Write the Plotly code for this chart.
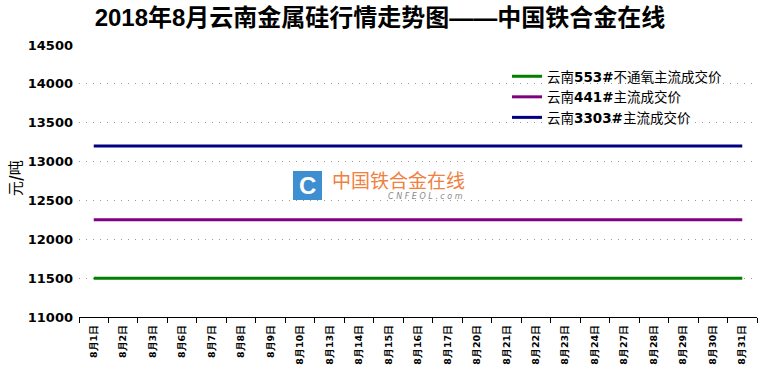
import plotly.graph_objects as go

dates = ["8月1日", "8月2日", "8月3日", "8月6日", "8月7日", "8月8日", "8月9日", "8月10日",
         "8月13日", "8月14日", "8月15日", "8月16日", "8月17日", "8月20日", "8月21日",
         "8月22日", "8月23日", "8月24日", "8月27日", "8月28日", "8月29日", "8月30日", "8月31日"]
s553 = [11500] * 23
s441 = [12250] * 23
s3303 = [13200] * 23
names = ["云南<b>553#</b>不通氧主流成交价", "云南<b>441#</b>主流成交价", "云南<b>3303#</b>主流成交价"]
colors = ["#008000", "#800080", "#000080"]
yticks = [11000, 11500, 12000, 12500, 13000, 13500, 14000, 14500]

W, H = 760, 371
L, R, T, B = 79, 757, 45, 317

fig = go.Figure()
for vals, nm, c in zip([s553, s441, s3303], names, colors):
    fig.add_trace(go.Scatter(x=dates, y=vals, name=nm, mode="lines",
                             line=dict(color=c, width=3)))

def px(x):
    return (x - L) / (R - L)

def py(y):
    return (B - y) / (B - T)

# watermark
fig.add_shape(type="rect", xref="paper", yref="paper",
              x0=px(293), x1=px(322), y0=py(200), y1=py(171),
              fillcolor="#3d8fd1", line=dict(width=0), layer="below")
fig.add_annotation(xref="paper", yref="paper", x=px(307.5), y=py(185.5), text="<b>C</b>",
                   xanchor="center", yanchor="middle",
                   showarrow=False, font=dict(family="Liberation Sans", size=24, color="white"))
fig.add_annotation(xref="paper", yref="paper", x=px(398), y=py(179), text="中国铁合金在线",
                   xanchor="center", yanchor="middle",
                   showarrow=False, font=dict(family="Noto Sans CJK SC", size=19, color="#f08040"))
fig.add_annotation(xref="paper", yref="paper", x=px(425), y=py(196),
                   text="<i>C N F E O L</i> . <i>c o m</i>",
                   xanchor="center", yanchor="middle",
                   showarrow=False, font=dict(family="DejaVu Sans", size=8, color="#8a8a8a"))

# y-axis title placed explicitly
fig.add_annotation(xref="paper", yref="paper", x=px(14), y=py(178), text="元<b>/</b>吨",
                   xanchor="center", yanchor="middle",
                   textangle=-90, showarrow=False,
                   font=dict(family="Noto Sans CJK SC", size=15, color="black"))

fig.update_layout(
    width=W, height=H,
    margin=dict(l=L, r=W - R, t=T, b=H - B),
    paper_bgcolor="white", plot_bgcolor="white",
    title=dict(text="<b>2018年8月云南金属硅行情走势图——中国铁合金在线</b>",
               x=0.5, xanchor="center", y=1 - 18 / H, yanchor="middle",
               font=dict(family="Liberation Sans, Noto Sans CJK SC", size=24, color="black")),
    showlegend=True,
    legend=dict(x=px(507), y=py(61), xanchor="left", yanchor="top",
                bgcolor="rgba(0,0,0,0)", itemwidth=30, tracegroupgap=0,
                font=dict(family="DejaVu Sans, Noto Sans CJK SC", size=13.5, color="black")),
    xaxis=dict(type="category", range=[-0.5, len(dates) - 0.5], tickson="boundaries",
               ticks="outside", ticklen=5, tickcolor="black", showline=True, linecolor="black",
               linewidth=1, showgrid=False, tickangle=-90, ticklabelstandoff=3,
               automargin=False,
               tickfont=dict(family="DejaVu Sans", size=9.5, color="black"),
               tickprefix="<b>", ticksuffix="</b>"),
    yaxis=dict(range=[11000, 14500], tickvals=yticks,
               ticktext=[f"<b>{v}</b>" for v in yticks],
               showgrid=True, gridcolor="#999999", automargin=False,
               griddash="1px,6px", gridwidth=1, zeroline=False, showline=False,
               ticks="", ticklabelstandoff=5,
               tickfont=dict(family="DejaVu Sans", size=13, color="black")),
)
fig.write_html("out.html")
